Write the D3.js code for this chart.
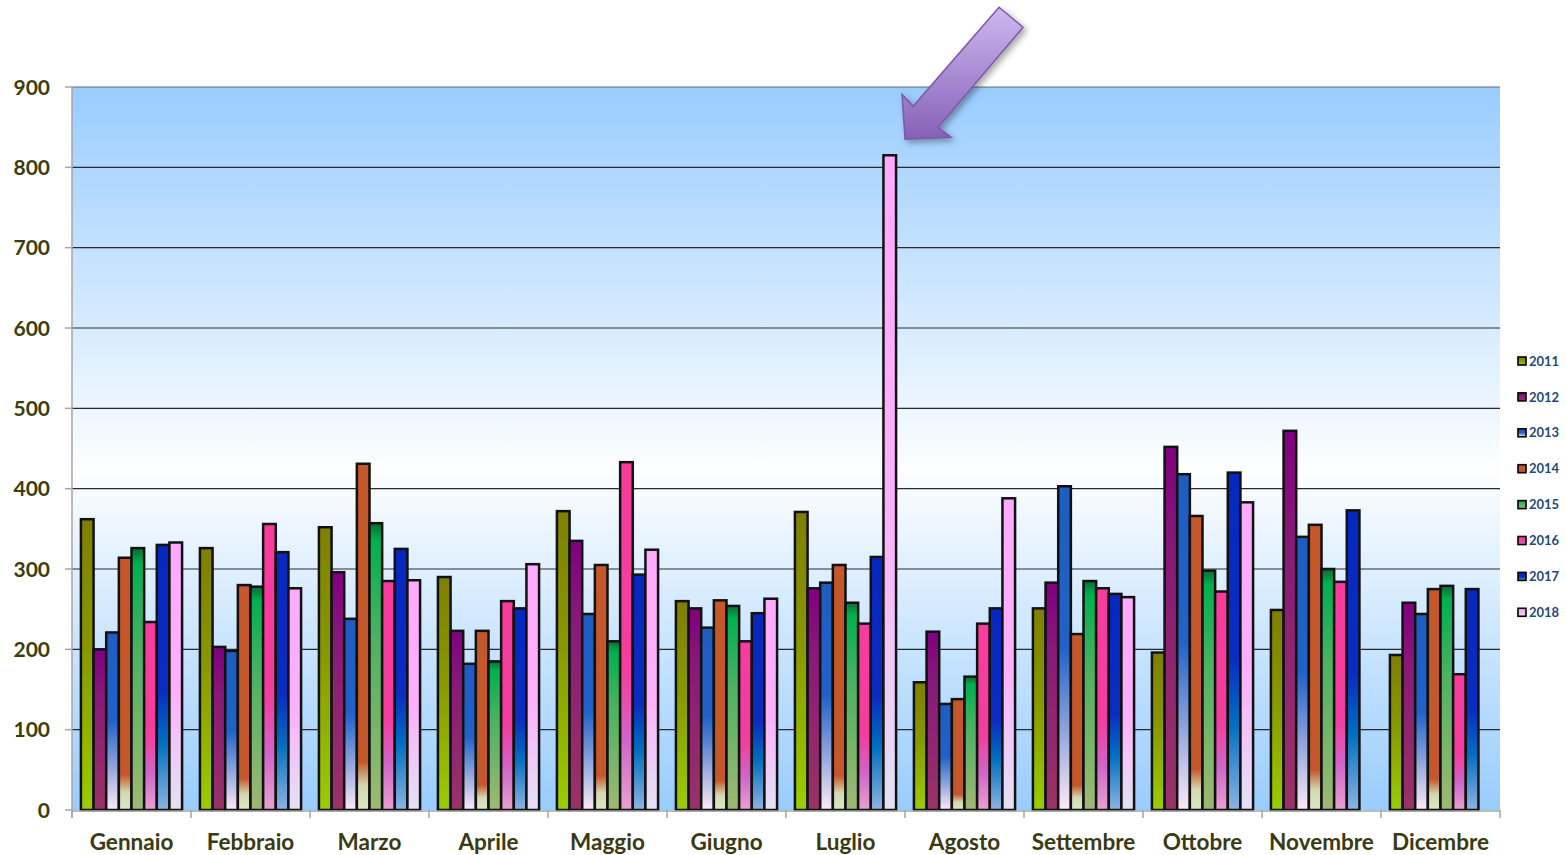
<!DOCTYPE html>
<html>
<head>
<meta charset="utf-8">
<script src="https://cdn.jsdelivr.net/npm/d3@7"></script>
<style>
  body { margin: 0; background: #fff; }
  svg { display: block; font-family: Lato, "Open Sans", sans-serif; }
</style>
</head>
<body>
<div id="chart"></div>
<script>
// months on the x axis
const months = ["Gennaio","Febbraio","Marzo","Aprile","Maggio","Giugno","Luglio","Agosto","Settembre","Ottobre","Novembre","Dicembre"];
const years = ["2011","2012","2013","2014","2015","2016","2017","2018"];
const yTicks = [0,100,200,300,400,500,600,700,800,900];

// one array per year, one value per month (null = no bar)
const v2011 = [362,326,352,290,372,260,371,159,251,196,249,193];
const v2012 = [200,203,296,223,335,251,276,222,283,452,472,258];
const v2013 = [221,198,238,182,244,227,283,132,403,418,340,244];
const v2014 = [314,280,431,223,305,261,305,138,219,366,355,275];
const v2015 = [326,278,357,185,210,254,258,166,285,298,300,279];
const v2016 = [234,356,285,260,433,210,232,232,276,272,284,169];
const v2017 = [330,321,325,251,293,245,315,251,269,420,373,275];
const v2018 = [333,276,286,306,324,263,815,388,265,383,null,null];
const series = [v2011,v2012,v2013,v2014,v2015,v2016,v2017,v2018];

// gradient stops for each year (top -> bottom of the bar)
const gradStops = {
  "2011": [[0,"#7f7f00"],[0.45,"#889800"],[1,"#9acd00"]],
  "2012": [[0,"#800080"],[0.3,"#881a78"],[1,"#993366"]],
  "2013": [[0,"#1e5cc0"],[0.5,"#2262c8"],[0.75,"#8ea3dc"],[1,"#fdeaf6"]],
  "2014": [[0,"#c4582a"],[0.86,"#c4582a"],[0.93,"#d4d8b2"],[1,"#dbe8c6"]],
  "2015": [[0,"#0d6a35"],[0.06,"#00b050"],[0.4,"#4cb262"],[1,"#a0b872"]],
  "2016": [[0,"#f83c9c"],[0.6,"#f23e9e"],[0.8,"#cf66c8"],[1,"#e8a2d0"]],
  "2017": [[0,"#0628bf"],[0.55,"#0a2cc0"],[0.75,"#0070c0"],[1,"#8eb4e2"]],
  "2018": [[0,"#ffaaff"],[0.55,"#fcb0fb"],[1,"#e2e2f4"]]
};

const W = 1566, H = 855;
const margin = { top: 87, right: 66, bottom: 45, left: 72 };
const width = W - margin.left - margin.right,
      height = H - margin.top - margin.bottom;

const svg = d3.select("#chart").append("svg")
  .attr("width", W).attr("height", H);

const defs = svg.append("defs");

// plot background: blue - white - blue
const bg = defs.append("linearGradient").attr("id","bgGrad")
  .attr("x1",0).attr("y1",0).attr("x2",0).attr("y2",1);
bg.append("stop").attr("offset",0).attr("stop-color","#99ccff");
bg.append("stop").attr("offset",0.53).attr("stop-color","#fdfeff");
bg.append("stop").attr("offset",1).attr("stop-color","#99ccff");

years.forEach(yr => {
  const g = defs.append("linearGradient").attr("id","g"+yr)
    .attr("x1",0).attr("y1",0).attr("x2",0).attr("y2",1);
  gradStops[yr].forEach(s => g.append("stop").attr("offset",s[0]).attr("stop-color",s[1]));
});

const arrowGrad = defs.append("linearGradient").attr("id","arrowGrad")
  .attr("x1",0).attr("y1",0).attr("x2",0).attr("y2",1);
arrowGrad.append("stop").attr("offset",0).attr("stop-color","#cdb8ef");
arrowGrad.append("stop").attr("offset",1).attr("stop-color","#8660b6");

const shadow = defs.append("filter").attr("id","shadow")
  .attr("x","-20%").attr("y","-20%").attr("width","150%").attr("height","150%");
shadow.append("feDropShadow").attr("dx",3).attr("dy",3).attr("stdDeviation",3)
  .attr("flood-color","#000").attr("flood-opacity",0.35);

const g = svg.append("g").attr("transform",`translate(${margin.left},${margin.top})`);

const x = d3.scaleBand().domain(months).range([0,width])
  .paddingInner(0.15).paddingOuter(0.075);
const xi = d3.scaleBand().domain(years).range([0,x.bandwidth()]).padding(0);
const y = d3.scaleLinear().domain([0,900]).range([height,0]);

g.append("rect").attr("width",width).attr("height",height).attr("fill","url(#bgGrad)");

// gridlines
g.selectAll(".grid").data(yTicks.filter(t => t > 0)).enter().append("line")
  .attr("x1",0).attr("x2",width)
  .attr("y1",d => y(d)).attr("y2",d => y(d))
  .attr("stroke",d => d === 900 ? "#6a6a6a" : "#2a2a2a").attr("stroke-width",1.2);

// bars
const data1 = [];
months.forEach((m,i) => {
  years.forEach((yr,j) => {
    if (series[j][i] != null) data1.push({month: m, year: yr, value: series[j][i]});
  });
});

g.selectAll(".bar").data(data1).enter().append("rect")
  .attr("x",d => x(d.month) + xi(d.year))
  .attr("y",d => y(d.value))
  .attr("width",xi.bandwidth())
  .attr("height",d => height - y(d.value))
  .attr("fill",d => "url(#g"+d.year+")")
  .attr("stroke","#111").attr("stroke-width",2.5);

// y axis
g.append("line").attr("x1",0).attr("x2",0).attr("y1",0).attr("y2",height+8)
  .attr("stroke","#a6a6a6").attr("stroke-width",1.5);
g.selectAll(".ytick").data(yTicks).enter().append("line")
  .attr("x1",-7).attr("x2",0).attr("y1",d => y(d)).attr("y2",d => y(d))
  .attr("stroke","#a6a6a6").attr("stroke-width",1.5);
g.selectAll(".ylab").data(yTicks).enter().append("text")
  .attr("x",-22).attr("y",d => y(d)).attr("dy","0.36em")
  .attr("text-anchor","end")
  .attr("font-size",21).attr("font-weight","bold").attr("fill","#3d3d0a")
  .text(d => d);

// x axis
g.append("line").attr("x1",0).attr("x2",width).attr("y1",height+1).attr("y2",height+1)
  .attr("stroke","#a6a6a6").attr("stroke-width",1.5);
const bounds = months.map((m,i) => i * x.step()).concat([width]);
g.selectAll(".xtick").data(bounds).enter().append("line")
  .attr("x1",d => d).attr("x2",d => d).attr("y1",height).attr("y2",height+8)
  .attr("stroke","#a6a6a6").attr("stroke-width",1.5);
g.selectAll(".xlab").data(months).enter().append("text")
  .attr("x",d => x(d) + x.bandwidth()/2)
  .attr("y",height + 40)
  .attr("text-anchor","middle")
  .attr("font-size",22.5).attr("font-weight","bold").attr("fill","#3a3a12")
  .text(d => d);

// legend
const legend = svg.append("g").attr("transform","translate(1518,361)");
const lg = legend.selectAll(".legendItem").data(years).enter().append("g")
  .attr("transform",(d,i) => `translate(0,${i*35.9})`);
lg.append("rect").attr("x",0).attr("y",-4).attr("width",8).attr("height",8)
  .attr("fill",d => "url(#g"+d+")").attr("stroke","#000").attr("stroke-width",1.6);
lg.append("text").attr("x",11).attr("y",0).attr("dy","0.36em")
  .attr("font-size",13).attr("font-weight","bold").attr("fill","#1f497d")
  .text(d => d);

// arrow pointing at Luglio 2018
const tipX = margin.left + x("Luglio") + xi("2018") + xi.bandwidth() + 9;
const tipY = margin.top + y(815) - 16;
const arrowPts = [[94,-132],[118,-112],[33,-12],[46,-2],[0,0],[-3,-45],[8,-33]];
svg.append("polygon")
  .attr("points",arrowPts.map(p => [tipX + p[0], tipY + p[1]].join(",")).join(" "))
  .attr("fill","url(#arrowGrad)").attr("stroke","#7b58a8").attr("stroke-width",1.5)
  .attr("filter","url(#shadow)");
</script>
</body>
</html>
